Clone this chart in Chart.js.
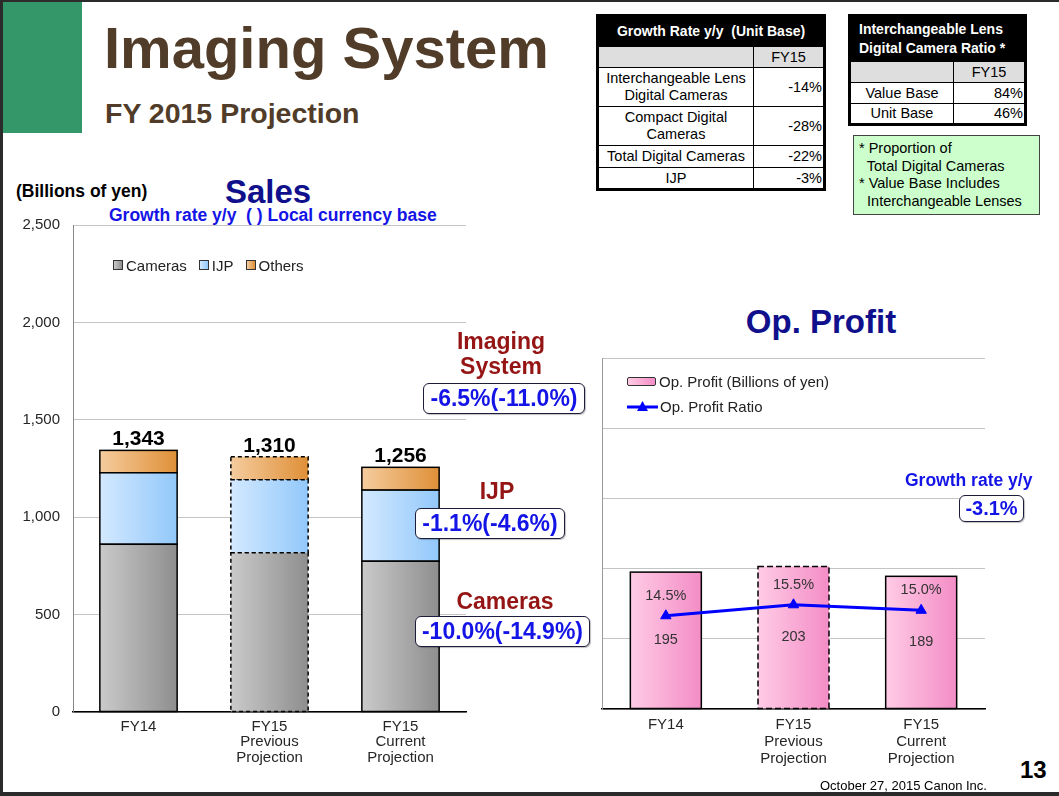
<!DOCTYPE html>
<html>
<head>
<meta charset="utf-8">
<title>Imaging System</title>
<script src="https://cdn.jsdelivr.net/npm/chart.js@4.4.1/dist/chart.umd.min.js"></script>
<style>
  html, body { margin: 0; padding: 0; background: #fff; }
  body { font-family: Arial, "Liberation Sans", sans-serif; }
  #slide { position: relative; width: 1059px; height: 796px; overflow: hidden; background: #fff; }
  .abs { position: absolute; white-space: pre; line-height: 1; }

  .frame { position: absolute; background: #2b2b2b; }
  .green { position: absolute; left: 3px; top: 2px; width: 79px; height: 131px; background: #33976a; }

  .title { left: 104px; top: 19px; font-size: 58px; font-weight: bold; color: #503c28; }
  .subtitle { left: 105px; top: 99px; font-size: 28.5px; font-weight: bold; color: #503c28; }

  .unit { left: 16px; top: 183px; font-size: 17.5px; font-weight: bold; color: #000; }
  .big { font-size: 33px; font-weight: bold; color: #10108c; text-align: center; width: 220px; }
  .blue { font-weight: bold; color: #1414e6; }
  .seg { font-size: 23px; font-weight: bold; color: #951414; text-align: center; width: 140px; line-height: 25px; }
  .growth { position: absolute; box-sizing: border-box; border: 1.5px solid #1c1c3c; border-radius: 6px;
            background: #fff; color: #1414e6; font-weight: bold; font-size: 23px;
            display: flex; align-items: center; justify-content: center; white-space: nowrap;
            box-shadow: 1px 1px 1px rgba(0,0,0,0.25); }

  canvas { position: absolute; }
  #salesChart { left: 10px; top: 203px; }
  #profitChart { left: 590px; top: 348px; }

  .legend { position: absolute; display: flex; align-items: center; font-size: 15px; color: #222; white-space: nowrap; }
  .legend .box { display: inline-block; width: 8px; height: 8px; border: 1px solid #333; margin-right: 3px; }
  .legend .item { display: flex; align-items: center; margin-right: 12px; }

  table.grid { position: absolute; border-collapse: collapse; border: 3px solid #000; font-size: 14.5px; color: #000; table-layout: fixed; }
  table.grid td { border: 1px solid #000; padding: 0 2px; line-height: 17px; }
  table.grid td.head { background: #000; color: #fff; font-weight: bold; font-size: 14px; white-space: pre; }
  table.grid td.gray { background: #dedede; }
  table.grid td.name { text-align: center; }
  table.grid td.val { text-align: right; padding-right: 1px; }

  .note { position: absolute; left: 853px; top: 135px; width: 187px; height: 80px; box-sizing: border-box;
          border: 1px solid #444; background: #ccffcc; padding: 4px 0 0 5px;
          font-size: 14.5px; line-height: 17.7px; white-space: pre; color: #000; }
</style>
</head>
<body>
<div id="slide">

  <div class="frame" style="left:0;top:0;width:1059px;height:2px"></div>
  <div class="frame" style="left:0;top:0;width:3px;height:796px"></div>
  <div class="frame" style="left:0;top:792px;width:1059px;height:4px"></div>
  <div class="green"></div>

  <div class="abs title">Imaging System</div>
  <div class="abs subtitle">FY 2015 Projection</div>

  <table class="grid" id="growthTable" style="left:596px;top:14px;width:227px"></table>
  <table class="grid" id="ratioTable" style="left:848px;top:14px;width:176px"></table>
  <div class="note" id="note"></div>

  <div class="abs unit">(Billions of yen)</div>
  <div class="abs big" style="left:158px;top:175px">Sales</div>
  <div class="abs blue" style="left:109px;top:207px;font-size:17.5px">Growth rate y/y  ( ) Local currency base</div>

  <canvas id="salesChart" width="470" height="572"></canvas>
  <div class="legend" id="salesLegend" style="left:113px;top:257px;height:16px"></div>

  <div id="segments"></div>

  <div class="abs big" style="left:711px;top:305px">Op. Profit</div>
  <canvas id="profitChart" width="420" height="430"></canvas>
  <div class="legend" id="profitLegend" style="left:627px;top:372px;flex-direction:column;align-items:flex-start"></div>

  <div class="abs blue" style="left:905px;top:472px;font-size:17.5px">Growth rate y/y</div>
  <div class="growth" style="left:959px;top:495px;width:65px;height:27px;font-size:20px" id="profitGrowth"></div>

  <div class="abs" style="left:820px;top:779px;font-size:13px;color:#000">October 27, 2015 Canon Inc.</div>
  <div class="abs" style="left:1020px;top:758px;font-size:24px;font-weight:bold;color:#000">13</div>
</div>

<script>

// ---------------- DATA ----------------

const periods = [
  "FY14",
  ["FY15", "Previous", "Projection"],
  ["FY15", "Current", "Projection"]
];

const camerasSales = [861, 817, 774];
const ijpSales = [367, 375, 365];
const othersSales = [115, 118, 117];
const salesTotals = [1343, 1310, 1256];
const salesTicks = [0, 500, 1000, 1500, 2000, 2500];

const opProfit = [195, 203, 189];
const opRatio = [14.5, 15.5, 15.0];
const profitTicks = [0, 100, 200, 300, 400, 500];

const segmentNames = [["Imaging", "System"], ["IJP"], ["Cameras"]];
const segmentGrowth = ["-6.5%(-11.0%)", "-1.1%(-4.6%)", "-10.0%(-14.9%)"];
const profitGrowth = "-3.1%";

const growthItems = [
  ["Interchangeable Lens", "Digital Cameras"],
  ["Compact Digital", "Cameras"],
  ["Total Digital Cameras"],
  ["IJP"]
];
const growthRates = ["-14%", "-28%", "-22%", "-3%"];

const ratioItems = ["Value Base", "Unit Base"];
const ratioValues = ["84%", "46%"];

const noteLines = [
  "* Proportion of",
  "  Total Digital Cameras",
  "* Value Base Includes",
  "  Interchangeable Lenses"
];


// ---------------- STYLES ----------------

const cameraColors = ["#cacaca", "#8e8e8e"];
const ijpColors = ["#d3e9ff", "#92c8fa"];
const otherColors = ["#f5cc9e", "#df9038"];
const pinkColors = ["#ffcbe5", "#f38dc6"];

const salesBarPct = 0.59;
const profitBarPct = 0.556;

Chart.defaults.font.family = "Arial, 'Liberation Sans', sans-serif";
Chart.defaults.color = "#262626";


// gradient left -> right across each bar
function barGradient(colors, pct) {

  return (c) => {

    const chart = c.chart;
    const area = chart.chartArea;

    if (c.type !== "data" || !area) return colors[1];

    const cx = chart.scales.x.getPixelForValue(c.dataIndex);
    const half = area.width / chart.data.labels.length * pct / 2;

    const g = chart.ctx.createLinearGradient(cx - half, 0, cx + half, 0);
    g.addColorStop(0, colors[0]);
    g.addColorStop(1, colors[1]);
    return g;
  };
}


// black outline on each bar, dashed for the previous projection
const barOutline = {

  id: "barOutline",

  afterDatasetDraw(chart, args, opts) {

    if (args.meta.type !== "bar") return;

    const ctx = chart.ctx;

    args.meta.data.forEach((bar, i) => {

      const p = bar.getProps(["x", "y", "base", "width"], true);

      ctx.save();
      ctx.strokeStyle = "#000";
      ctx.lineWidth = opts.width;
      ctx.setLineDash(i === opts.dashedIndex ? opts.dash : []);
      ctx.strokeRect(
        p.x - p.width / 2,
        Math.min(p.y, p.base),
        p.width,
        Math.abs(p.base - p.y)
      );
      ctx.restore();
    });
  }
};


const salesTotalsLabels = {

  id: "salesTotalsLabels",

  afterDatasetsDraw(chart) {

    const ctx = chart.ctx;
    const top = chart.getDatasetMeta(chart.data.datasets.length - 1);

    ctx.save();
    ctx.font = "bold 21px Arial, 'Liberation Sans', sans-serif";
    ctx.fillStyle = "#000";
    ctx.textAlign = "center";
    ctx.textBaseline = "alphabetic";

    top.data.forEach((bar, i) => {
      ctx.fillText(salesTotals[i].toLocaleString("en-US"), bar.x, bar.y - 5);
    });

    ctx.restore();
  }
};


const profitLabels = {

  id: "profitLabels",

  afterDatasetsDraw(chart) {

    const ctx = chart.ctx;
    const bars = chart.getDatasetMeta(0);
    const line = chart.getDatasetMeta(1);

    ctx.save();
    ctx.font = "14.5px Arial, 'Liberation Sans', sans-serif";
    ctx.fillStyle = "#333";
    ctx.textAlign = "center";
    ctx.textBaseline = "middle";

    bars.data.forEach((bar, i) => {
      ctx.fillText(String(opProfit[i]), bar.x, (bar.y + bar.base) / 2);
    });

    line.data.forEach((pt, i) => {
      ctx.fillText(opRatio[i].toFixed(1) + "%", pt.x, pt.y - 20);
    });

    ctx.restore();
  }
};


// ---------------- SALES CHART ----------------

new Chart(document.getElementById("salesChart"), {

  type: "bar",

  data: {
    labels: periods,
    datasets: [
      { label: "Cameras", data: camerasSales, backgroundColor: barGradient(cameraColors, salesBarPct), borderWidth: 0 },
      { label: "IJP", data: ijpSales, backgroundColor: barGradient(ijpColors, salesBarPct), borderWidth: 0 },
      { label: "Others", data: othersSales, backgroundColor: barGradient(otherColors, salesBarPct), borderWidth: 0 }
    ]
  },

  options: {
    responsive: false,
    animation: false,
    devicePixelRatio: 1,
    // y tick padding already reserves 22px at the top
    layout: { padding: { top: 0, right: 14, left: 0, bottom: 0 } },
    datasets: { bar: { barPercentage: salesBarPct, categoryPercentage: 1 } },
    plugins: {
      legend: { display: false },
      tooltip: { enabled: false },
      barOutline: { dashedIndex: 1, dash: [4, 3], width: 1.5 }
    },
    scales: {
      x: {
        stacked: true,
        grid: { display: false, drawTicks: false },
        border: { color: "#000", width: 1.5 },
        ticks: { font: { size: 15, lineHeight: 1.03 }, padding: 7, maxRotation: 0, autoSkip: false },
        afterFit: (s) => { s.height = 63; }
      },
      y: {
        stacked: true,
        min: 0,
        max: 2500,
        grid: { color: "#c4c4c4", drawTicks: false },
        border: { color: "#888", width: 1 },
        ticks: { font: { size: 15 }, padding: 13 },
        afterBuildTicks: (s) => { s.ticks = salesTicks.map(v => ({ value: v })); },
        afterFit: (s) => { s.width = 63; }
      }
    }
  },

  plugins: [barOutline, salesTotalsLabels]
});


// ---------------- OP. PROFIT CHART ----------------

new Chart(document.getElementById("profitChart"), {

  type: "bar",

  data: {
    labels: periods,
    datasets: [
      {
        label: "Op. Profit (Billions of yen)",
        data: opProfit,
        backgroundColor: barGradient(pinkColors, profitBarPct),
        borderWidth: 0,
        order: 1
      },
      {
        type: "line",
        label: "Op. Profit Ratio",
        data: opRatio,
        yAxisID: "y1",
        borderColor: "#0000ff",
        backgroundColor: "#0000ff",
        borderWidth: 3,
        pointStyle: "triangle",
        pointRadius: 6,
        pointBorderWidth: 1,
        tension: 0,
        order: 0
      }
    ]
  },

  options: {
    responsive: false,
    animation: false,
    devicePixelRatio: 1,
    layout: { padding: { top: 10, right: 25, left: 0, bottom: 0 } },
    datasets: { bar: { barPercentage: profitBarPct, categoryPercentage: 1 } },
    plugins: {
      legend: { display: false },
      tooltip: { enabled: false },
      barOutline: { dashedIndex: 1, dash: [6, 3], width: 1.5 }
    },
    scales: {
      x: {
        grid: { display: false, drawTicks: false },
        border: { color: "#000", width: 1.5 },
        ticks: { font: { size: 15, lineHeight: 1.13 }, padding: 7, maxRotation: 0, autoSkip: false },
        afterFit: (s) => { s.height = 69; }
      },
      y: {
        min: 0,
        max: 500,
        grid: { color: "#c4c4c4", drawTicks: false },
        border: { color: "#999", width: 1 },
        ticks: { display: false },
        afterBuildTicks: (s) => { s.ticks = profitTicks.map(v => ({ value: v })); },
        afterFit: (s) => { s.width = 12; }
      },
      y1: { display: false, min: 6, max: 38 }
    }
  },

  plugins: [barOutline, profitLabels]
});


// ---------------- LEGENDS ----------------

const salesLegend = document.getElementById("salesLegend");

[["Cameras", cameraColors], ["IJP", ijpColors], ["Others", otherColors]].forEach(([name, colors]) => {

  const item = document.createElement("span");
  item.className = "item";
  item.innerHTML =
    `<span class="box" style="background:linear-gradient(90deg,${colors[0]},${colors[1]})"></span>${name}`;
  salesLegend.appendChild(item);
});


const profitLegend = document.getElementById("profitLegend");

profitLegend.innerHTML = `
  <div style="display:flex;align-items:center;height:19px;margin-bottom:6px">
    <span style="display:inline-block;width:27px;height:7px;border:1px solid #333;border-radius:2px;margin-right:3px;
      background:linear-gradient(90deg,${pinkColors[0]},${pinkColors[1]})"></span>Op. Profit (Billions of yen)
  </div>
  <div style="display:flex;align-items:center;height:19px">
    <svg width="31" height="12" style="margin-right:2px">
      <line x1="0" y1="6" x2="31" y2="6" stroke="#0000ff" stroke-width="3"/>
      <polygon points="15.5,0 21,10 10,10" fill="#0000ff"/>
    </svg>Op. Profit Ratio
  </div>`;


// ---------------- ANNOTATIONS ----------------

const segments = document.getElementById("segments");

const segmentPlaces = [
  { cx: 501, top: 329, box: [423, 383, 162, 31] },
  { cx: 497, top: 479, box: [415, 508, 150, 31] },
  { cx: 505, top: 589, box: [415, 616, 175, 31] }
];

segmentNames.forEach((lines, i) => {

  const p = segmentPlaces[i];

  const name = document.createElement("div");
  name.className = "abs seg";
  name.style.left = (p.cx - 70) + "px";
  name.style.top = p.top + "px";
  name.textContent = lines.join("\n");
  segments.appendChild(name);

  const box = document.createElement("div");
  box.className = "growth";
  box.style.left = p.box[0] + "px";
  box.style.top = p.box[1] + "px";
  box.style.width = p.box[2] + "px";
  box.style.height = p.box[3] + "px";
  box.textContent = segmentGrowth[i];
  segments.appendChild(box);
});

document.getElementById("profitGrowth").textContent = profitGrowth;


// ---------------- TABLES ----------------

const growthTable = document.getElementById("growthTable");

let html = `
  <colgroup><col style="width:156px"><col style="width:71px"></colgroup>
  <tr style="height:31px"><td class="head name" colspan="2">Growth Rate y/y  (Unit Base)</td></tr>
  <tr style="height:21px"><td class="gray"></td><td class="gray name">FY15</td></tr>`;

growthItems.forEach((lines, i) => {
  const h = lines.length > 1 ? 39 : 22;
  html += `<tr style="height:${h}px"><td class="name">${lines.join("<br>")}</td><td class="val">${growthRates[i]}</td></tr>`;
});

growthTable.innerHTML = html;


const ratioTable = document.getElementById("ratioTable");

html = `
  <colgroup><col style="width:104px"><col style="width:72px"></colgroup>
  <tr style="height:46px"><td class="head" colspan="2" style="padding-left:8px;line-height:19px">Interchangeable Lens<br>Digital Camera Ratio *</td></tr>
  <tr style="height:21px"><td class="gray"></td><td class="gray name">FY15</td></tr>`;

ratioItems.forEach((name, i) => {
  html += `<tr style="height:21px"><td class="name">${name}</td><td class="val">${ratioValues[i]}</td></tr>`;
});

ratioTable.innerHTML = html;

document.getElementById("note").textContent = noteLines.join("\n");

</script>
</body>
</html>
